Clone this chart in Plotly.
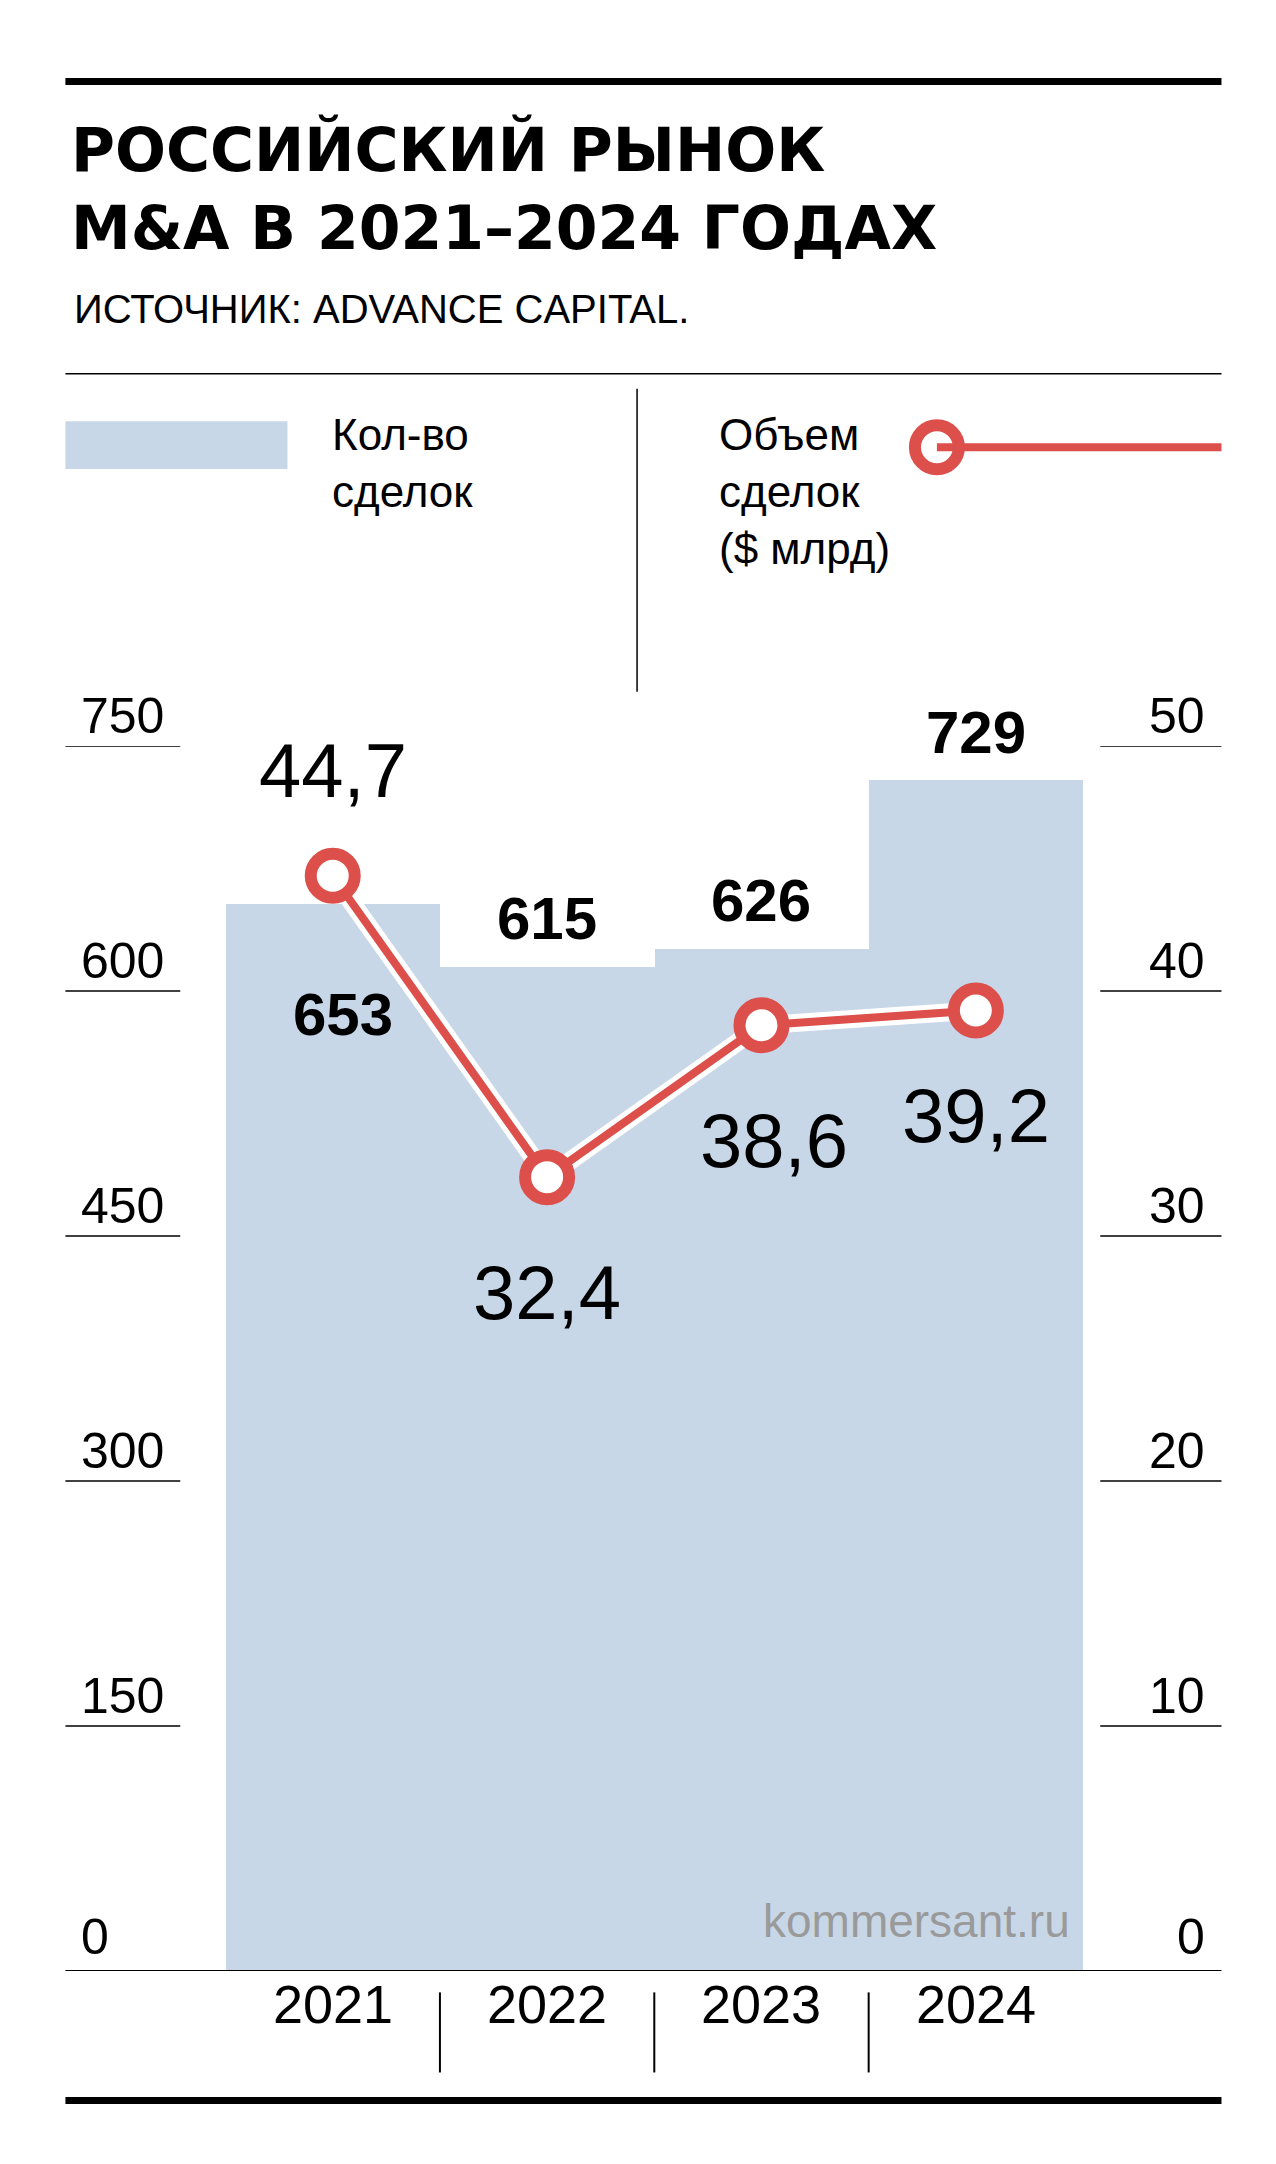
import plotly.graph_objects as go

# данные
YEARS = ["2021", "2022", "2023", "2024"]
DEALS = [653, 615, 626, 729]
VOLUME = [44.7, 32.4, 38.6, 39.2]
LEFT_TICKS = [0, 150, 300, 450, 600, 750]
RIGHT_TICKS = [0, 10, 20, 30, 40, 50]

BLUE = '#c8d7e8'
RED = '#dc4f4a'
NARROW = "Liberation Sans, Arial, sans-serif"
X = list(range(len(YEARS)))

fig = go.Figure()

fig.add_trace(go.Bar(x=X, y=DEALS, width=1.0, marker=dict(color=BLUE, line_width=0),
                     showlegend=False, hoverinfo='skip'))
# белая подложка линии
fig.add_trace(go.Scatter(x=X, y=VOLUME, yaxis='y2', mode='lines',
                         line=dict(color='white', width=18), showlegend=False, hoverinfo='skip'))
fig.add_trace(go.Scatter(x=X, y=VOLUME, yaxis='y2', mode='lines+markers',
                         line=dict(color=RED, width=8),
                         marker=dict(size=44, color='white', line=dict(color=RED, width=12)),
                         showlegend=False, hoverinfo='skip'))

shapes = []
ann = []
TF = dict(family=NARROW, size=50, color='black')

# риски осей
for v in LEFT_TICKS[1:]:
    shapes.append(dict(type='line', xref='paper', yref='y', x0=0.045, x1=0.135, y0=v, y1=v,
                       line=dict(color='black', width=1.5)))
    ann.append(dict(xref='paper', yref='y', x=0.056, y=v, text=str(v), xanchor='left',
                    yanchor='bottom', showarrow=False, font=TF))
for v in RIGHT_TICKS[1:]:
    shapes.append(dict(type='line', xref='paper', yref='y2', x0=0.856, x1=0.951, y0=v, y1=v,
                       line=dict(color='black', width=1.5)))
    ann.append(dict(xref='paper', yref='y2', x=0.94, y=v, text=str(v), xanchor='right',
                    yanchor='bottom', showarrow=False, font=TF))
ann.append(dict(xref='paper', yref='y', x=0.056, y=0, text="0", xanchor='left', yanchor='bottom',
                yshift=4, showarrow=False, font=TF))
ann.append(dict(xref='paper', yref='y', x=0.94, y=0, text="0", xanchor='right', yanchor='bottom',
                yshift=4, showarrow=False, font=TF))

# базовая линия и разделители лет
shapes.append(dict(type='line', xref='paper', yref='y', x0=0.045, x1=0.951, y0=0, y1=0,
                   line=dict(color='black', width=2)))
for i in X:
    ann.append(dict(xref='x', yref='paper', x=i, y=0.063, text=YEARS[i], showarrow=False,
                    font=dict(family=NARROW, size=54, color='black')))
    if i > 0:
        shapes.append(dict(type='line', xref='x', yref='paper', x0=i - 0.5, x1=i - 0.5,
                           y0=0.046, y1=0.083, line=dict(color='black', width=2)))

# подписи столбцов
bar_shift = [-110, 48, 48, 48]
for i in X:
    ann.append(dict(xref='x', yref='y', x=i, y=DEALS[i], text=f"<b>{DEALS[i]}</b>",
                    showarrow=False, yshift=bar_shift[i], xshift=10 if i == 0 else 0,
                    font=dict(family=NARROW, size=60, color='black')))
# подписи линии
line_shift = [105, -115, -115, -105]
line_x = [0, 0, 0.06, 0]
for i in X:
    ann.append(dict(xref='x', yref='y2', x=i + line_x[i], y=VOLUME[i],
                    text=f"{VOLUME[i]:.1f}".replace('.', ','), showarrow=False,
                    yshift=line_shift[i], font=dict(family=NARROW, size=76, color='black')))

# рамка и заголовок
for y, w in [(0.966, 7), (0.033, 7)]:
    shapes.append(dict(type='line', xref='paper', yref='paper', x0=0.045, x1=0.951, y0=y, y1=y,
                       line=dict(color='black', width=w)))
shapes.append(dict(type='line', xref='paper', yref='paper', x0=0.045, x1=0.951, y0=0.831, y1=0.831,
                   line=dict(color='black', width=1.5)))
shapes.append(dict(type='line', xref='paper', yref='paper', x0=0.493, x1=0.493, y0=0.684, y1=0.824,
                   line=dict(color='black', width=1.5)))
ann.append(dict(xref='paper', yref='paper', x=0.048, y=0.952, xanchor='left', yanchor='top',
                align='left', showarrow=False,
                text="<b>РОССИЙСКИЙ РЫНОК<br>M&A В 2021–2024 ГОДАХ</b>",
                font=dict(family="DejaVu Sans", size=60, color='black')))
ann.append(dict(xref='paper', yref='paper', x=0.05, y=0.861, xanchor='left', yanchor='middle',
                showarrow=False, text="ИСТОЧНИК: ADVANCE CAPITAL.",
                font=dict(family=NARROW, size=40, color='black')))

# легенда
shapes.append(dict(type='rect', xref='paper', yref='paper', x0=0.045, x1=0.219, y0=0.787, y1=0.809,
                   fillcolor=BLUE, line_width=0))
ann.append(dict(xref='paper', yref='paper', x=0.252, y=0.815, xanchor='left', yanchor='top',
                align='left', showarrow=False, text="Кол-во<br>сделок",
                font=dict(family=NARROW, size=44, color='black')))
ann.append(dict(xref='paper', yref='paper', x=0.556, y=0.815, xanchor='left', yanchor='top',
                align='left', showarrow=False, text="Объем<br>сделок<br>($ млрд)",
                font=dict(family=NARROW, size=44, color='black')))
shapes.append(dict(type='line', xref='paper', yref='paper', x0=0.728, x1=0.951, y0=0.797, y1=0.797,
                   line=dict(color=RED, width=8)))
fig.add_trace(go.Scatter(x=[0.728], y=[0.797], xaxis='x3', yaxis='y3', mode='markers',
                         marker=dict(size=44, color='white', line=dict(color=RED, width=12)),
                         showlegend=False, hoverinfo='skip'))

ann.append(dict(xref='x', yref='y', x=3.45, y=0, xanchor='right', yanchor='bottom', yshift=22,
                text="kommersant.ru", showarrow=False,
                font=dict(family=NARROW, size=46, color='#9a9a9a')))

fig.update_layout(
    width=1276, height=2164,
    margin=dict(l=0, r=0, t=0, b=0),
    paper_bgcolor='white', plot_bgcolor='rgba(0,0,0,0)',
    xaxis=dict(domain=[0.1705, 0.8425], range=[-0.5, 3.5], visible=False),
    yaxis=dict(domain=[0.0929, 0.659], range=[0, 750], visible=False),
    yaxis2=dict(overlaying='y', range=[0, 50], visible=False),
    xaxis3=dict(domain=[0, 1], range=[0, 1], visible=False, anchor='y3'),
    yaxis3=dict(domain=[0, 1], range=[0, 1], visible=False, anchor='x3'),
    shapes=shapes, annotations=ann,
    bargap=0,
)

fig.write_html("out.html")
